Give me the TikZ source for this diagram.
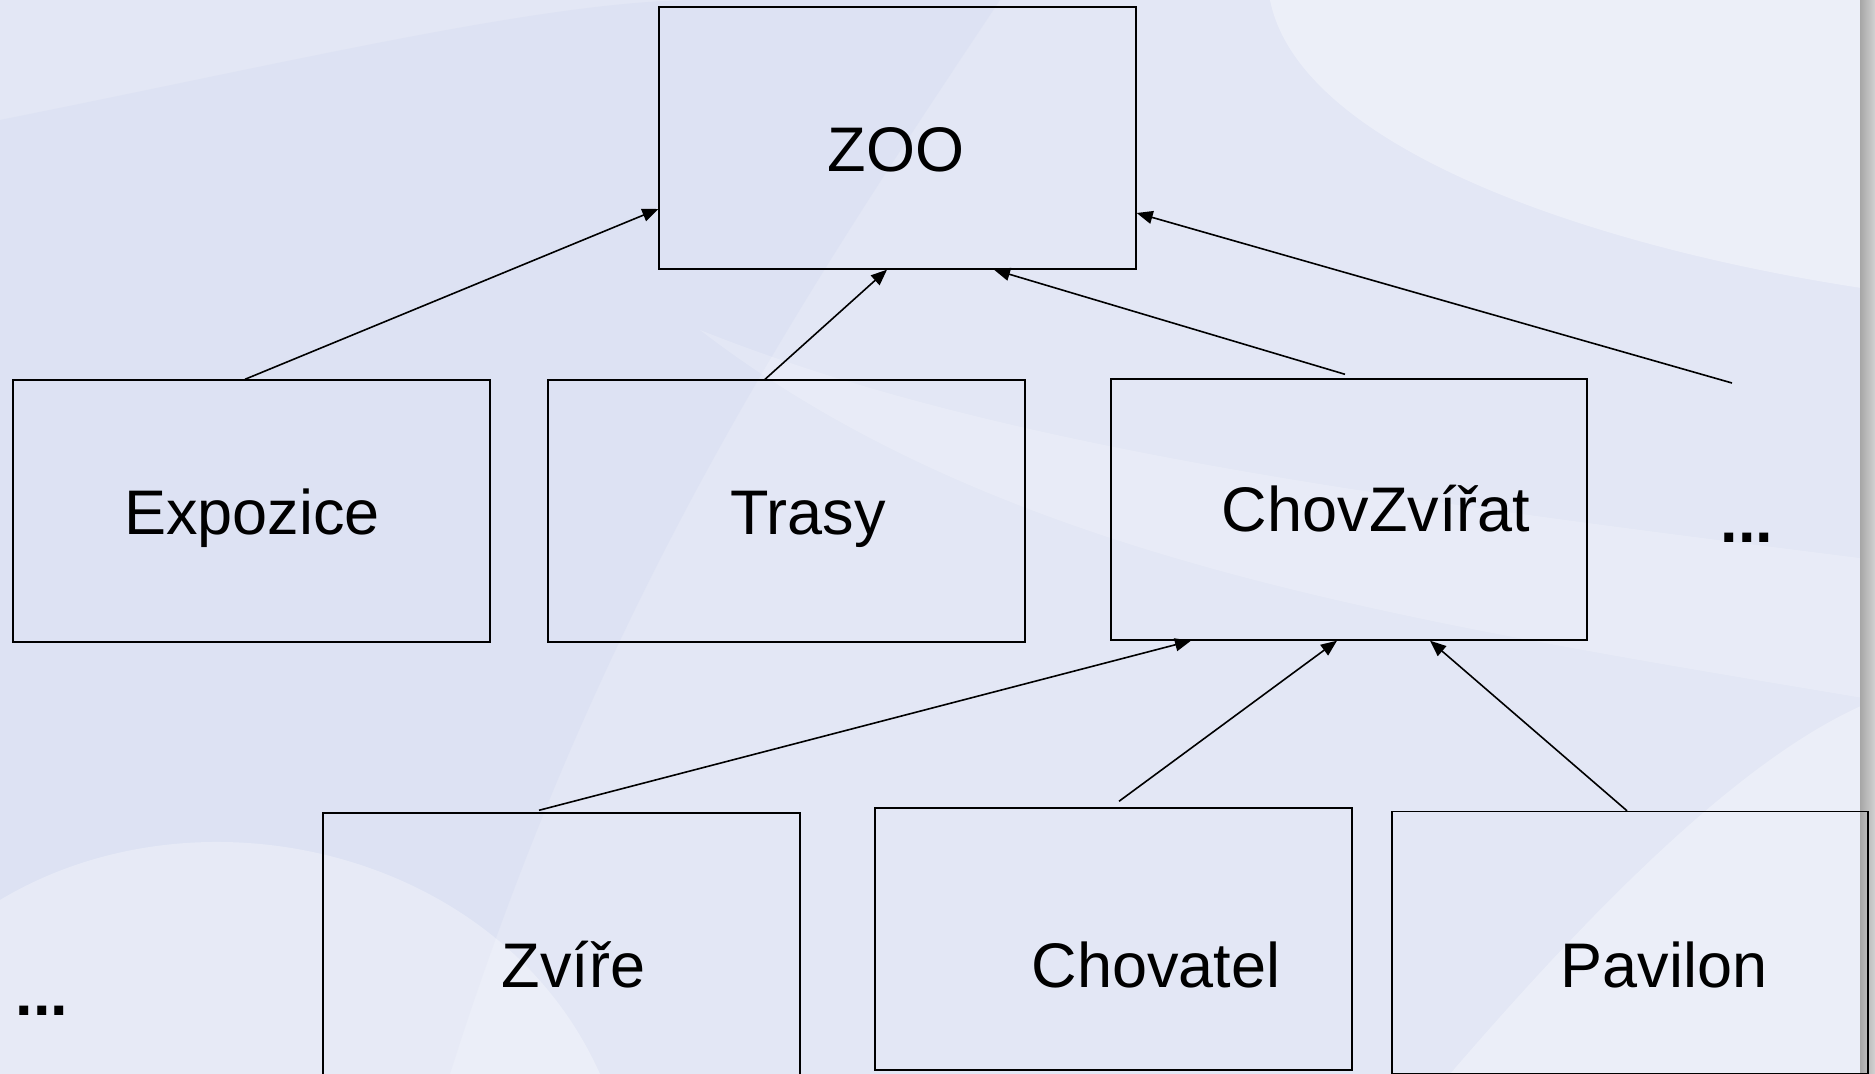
\documentclass[tikz,border=0pt]{standalone}
\usepackage{fontspec}
\setmainfont{Liberation Sans}
\usetikzlibrary{arrows.meta,calc}
\definecolor{bgcol}{HTML}{E3E7F5}
\definecolor{bgdark}{HTML}{D9DFF2}
\begin{document}
\begin{tikzpicture}[x=0.5pt,y=-0.5pt,
  box/.style={draw=black,line width=0.7pt,minimum width=238.5pt,minimum height=131pt,inner sep=0pt},
  lbl/.style={anchor=base,font=\fontsize{31.5}{38}\selectfont,inner sep=0pt},
  dotsty/.style={anchor=base,font=\fontsize{31.5}{38}\selectfont\bfseries,inner sep=0pt},
  link/.style={draw=black,line width=0.8pt,-{Triangle[length=8pt,width=6.5pt]}}]
% background
\fill[bgcol] (0,0) rectangle (1875,1074);
\fill[bgdark,opacity=0.6] (0,120) .. controls (300,60) and (550,0) .. (700,0) -- (1000,0) .. controls (800,300) and (600,600) .. (450,1074) -- (0,1074) -- cycle;
\fill[white,opacity=0.35] (1270,0) .. controls (1300,150) and (1600,250) .. (1875,290) -- (1875,0) -- cycle;
\fill[white,opacity=0.3] (0,1074) -- (0,900) .. controls (200,780) and (500,850) .. (600,1074) -- cycle;
\fill[white,opacity=0.3] (1450,1074) .. controls (1600,900) and (1750,750) .. (1875,700) -- (1875,1074) -- cycle;
\fill[white,opacity=0.2] (700,330) .. controls (1000,450) and (1400,500) .. (1875,560) -- (1875,700) .. controls (1400,620) and (1000,560) .. (700,330) -- cycle;
\shade[left color=gray!70,right color=gray!35] (1860,0) rectangle (1875,1074);
\useasboundingbox (0,0) rectangle (1875,1074);
% boxes
\node[box] (zoo) at (897.5,138) {};
\node[box] (expo) at (251.5,511) {};
\node[box] (trasy) at (786.5,511) {};
\node[box,minimum width=238pt,minimum height=130.5pt] (chov) at (1349,509.5) {};
\node[box] (zvire) at (561.5,944) {};
\node[box] (chovatel) at (1113.5,939) {};
\node[box,minimum width=238pt] (pavilon) at (1630,942.5) {};
% labels
\node[lbl] (tzoo) at (896,172) {ZOO};
\node[lbl] (texpo) at (252,535) {Expozice};
\node[lbl] (ttrasy) at (808,535) {Trasy};
\node[lbl] (tchov) at (1376,532) {ChovZvířat};
\node[lbl] (tzvire) at (573.5,987) {Zvíře};
\node[lbl] (tchovatel) at (1156,987) {Chovatel};
\node[lbl] (tpavilon) at (1664,987) {Pavilon};
\node[dotsty] (dotsr) at (1747,543) {...};
\node[dotsty] (dotsl) at (42,1015) {...};
% connectors
\coordinate (more) at (1732,383);
\draw[link] ([xshift=-3.25pt]expo.north) -- ([yshift=-35.5pt]zoo.west);
\draw[link] ([xshift=-10.75pt]trasy.north) -- ([xshift=-5.25pt]zoo.south);
\draw[link] ([xshift=-2pt,yshift=2pt]chov.north) -- ([xshift=48.25pt]zoo.south);
\draw[link] (more) -- ([yshift=-37.5pt]zoo.east);
\draw[link] ([xshift=-11.25pt,yshift=1pt]zvire.north) -- ([xshift=-79pt]chov.south);
\draw[link] ([xshift=2.75pt,yshift=3pt]chovatel.north) -- ([xshift=-6pt]chov.south);
\draw[link] ([xshift=-1.5pt]pavilon.north) -- ([xshift=40.5pt]chov.south);
\end{tikzpicture}
\end{document}
